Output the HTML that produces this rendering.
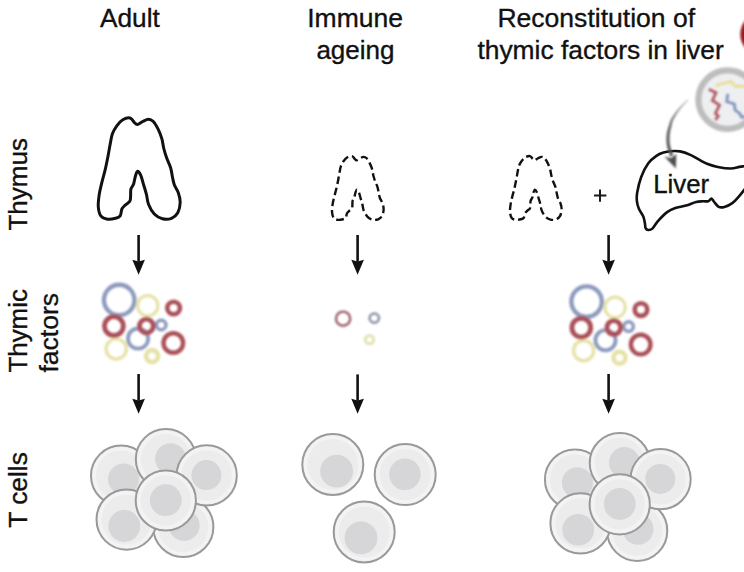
<!DOCTYPE html>
<html><head><meta charset="utf-8"><style>
html,body{margin:0;padding:0;background:#fff;font-family:"Liberation Sans",sans-serif;overflow:hidden;}
svg{display:block;}
</style></head><body>
<svg width="744" height="572" viewBox="0 0 744 572">
<defs>
<filter id="blur" x="-20%" y="-20%" width="140%" height="140%"><feGaussianBlur stdDeviation="0.6"/></filter>
<filter id="qblur" x="-20%" y="-20%" width="140%" height="140%"><feGaussianBlur stdDeviation="0.9"/></filter>
<filter id="sblur" x="-10%" y="-10%" width="120%" height="120%"><feGaussianBlur stdDeviation="0.8"/></filter>
<linearGradient id="ga" gradientUnits="userSpaceOnUse" x1="0" y1="99" x2="0" y2="157"><stop offset="0" stop-color="#b0b0b0"/><stop offset="0.45" stop-color="#6a6a6a"/><stop offset="1" stop-color="#4a4a4a"/></linearGradient>
<path id="thy" d="M130.00,118.00 C131.90,118.42 132.98,121.20 134.20,122.30 C135.42,123.40 135.88,124.73 137.30,124.60 C138.72,124.47 140.83,122.40 142.70,121.50 C144.57,120.60 146.73,119.20 148.50,119.20 C150.27,119.20 151.70,119.83 153.30,121.50 C154.90,123.17 156.67,126.32 158.10,129.20 C159.53,132.08 160.95,135.58 161.90,138.80 C162.85,142.02 163.00,145.28 163.80,148.50 C164.60,151.72 165.57,154.90 166.70,158.10 C167.83,161.30 169.63,164.50 170.60,167.70 C171.57,170.90 171.87,174.42 172.50,177.30 C173.13,180.18 173.43,182.43 174.40,185.00 C175.37,187.57 177.33,189.82 178.30,192.70 C179.27,195.58 180.28,198.95 180.20,202.30 C180.12,205.65 179.25,210.13 177.80,212.80 C176.35,215.47 174.05,217.30 171.50,218.30 C168.95,219.30 165.37,219.52 162.50,218.80 C159.63,218.08 156.63,216.43 154.30,214.00 C151.97,211.57 149.80,207.43 148.50,204.20 C147.20,200.97 147.30,197.80 146.50,194.60 C145.70,191.40 144.65,188.20 143.70,185.00 C142.75,181.80 141.82,177.70 140.80,175.40 C139.78,173.10 138.50,171.07 137.60,171.20 C136.70,171.33 136.07,174.07 135.40,176.20 C134.73,178.33 134.35,181.83 133.60,184.00 C132.85,186.17 131.40,187.15 130.90,189.20 C130.40,191.25 130.78,194.28 130.60,196.30 C130.42,198.32 130.70,199.82 129.80,201.30 C128.90,202.78 126.52,203.92 125.20,205.20 C123.88,206.48 122.73,207.23 121.90,209.00 C121.07,210.77 121.27,214.25 120.20,215.80 C119.13,217.35 117.62,217.73 115.50,218.30 C113.38,218.87 109.92,219.55 107.50,219.20 C105.08,218.85 102.53,218.23 101.00,216.20 C99.47,214.17 98.60,210.60 98.30,207.00 C98.00,203.40 98.63,198.58 99.20,194.60 C99.77,190.62 100.70,187.27 101.70,183.10 C102.70,178.93 104.15,174.08 105.20,169.60 C106.25,165.12 107.17,160.47 108.00,156.20 C108.83,151.93 109.47,147.73 110.20,144.00 C110.93,140.27 111.30,136.83 112.40,133.80 C113.50,130.77 115.07,128.13 116.80,125.80 C118.53,123.47 120.60,121.10 122.80,119.80 C125.00,118.50 128.10,117.58 130.00,118.00 Z"/>
</defs>
<rect width="744" height="572" fill="#fff"/>
<g font-family="Liberation Sans, sans-serif" fill="#111" stroke="#111" stroke-width="0.35"><text x="100.00" y="26.60" font-size="26" textLength="59.76" lengthAdjust="spacingAndGlyphs">Adult</text><text x="307.20" y="26.60" font-size="26" textLength="95.78" lengthAdjust="spacingAndGlyphs">Immune</text><text x="316.40" y="58.50" font-size="26" textLength="78.12" lengthAdjust="spacingAndGlyphs">ageing</text><text x="497.40" y="26.60" font-size="26" textLength="197.73" lengthAdjust="spacingAndGlyphs">Reconstitution of</text><text x="477.40" y="58.80" font-size="26" textLength="246.32" lengthAdjust="spacingAndGlyphs">thymic factors in liver</text><text transform="translate(27.20,230.60) rotate(-90)" font-size="26" textLength="92.69" lengthAdjust="spacingAndGlyphs">Thymus</text><text transform="translate(27.20,372.60) rotate(-90)" font-size="26" textLength="83.49" lengthAdjust="spacingAndGlyphs">Thymic</text><text transform="translate(58.20,372.60) rotate(-90)" font-size="26" textLength="79.74" lengthAdjust="spacingAndGlyphs">factors</text><text transform="translate(27.20,527.80) rotate(-90)" font-size="26" textLength="75.71" lengthAdjust="spacingAndGlyphs">T cells</text><text x="653.20" y="192.80" font-size="25" textLength="55.97" lengthAdjust="spacingAndGlyphs">Liver</text></g>
<!-- thymus -->
<use href="#thy" fill="none" stroke="#111" stroke-width="3"/>
<g transform="translate(330.9,155.2) scale(0.63) translate(-96.5,-116.6)"><use href="#thy" fill="none" stroke="#111" stroke-width="3.8" stroke-dasharray="12 6"/></g>
<g transform="translate(508.9,155.2) scale(0.63) translate(-96.5,-116.6)"><use href="#thy" fill="none" stroke="#111" stroke-width="3.8" stroke-dasharray="12 6" stroke-dashoffset="6"/></g>
<!-- plus -->
<path d="M594,195.6 H606.4 M600,189.4 V201.8" stroke="#1a1a1a" stroke-width="2"/>
<!-- liver -->
<path d="M749.00,165.80 C748.17,165.88 745.62,166.12 744.00,166.30 C742.38,166.48 741.52,166.53 739.30,166.90 C737.08,167.27 734.28,168.50 730.70,168.50 C727.12,168.50 721.75,167.70 717.80,166.90 C713.85,166.10 710.05,164.87 707.00,163.70 C703.95,162.53 702.18,161.33 699.50,159.90 C696.82,158.47 694.13,156.52 690.90,155.10 C687.67,153.68 683.50,152.05 680.10,151.40 C676.70,150.75 673.27,151.00 670.50,151.20 C667.73,151.40 665.78,151.87 663.50,152.60 C661.22,153.33 659.33,153.82 656.80,155.60 C654.27,157.38 650.90,159.73 648.30,163.30 C645.70,166.87 643.05,172.13 641.20,177.00 C639.35,181.87 637.92,188.47 637.20,192.50 C636.48,196.53 636.62,198.48 636.90,201.20 C637.18,203.92 637.83,206.25 638.90,208.80 C639.97,211.35 642.30,214.08 643.30,216.50 C644.30,218.92 644.52,221.37 644.90,223.30 C645.28,225.23 645.05,226.98 645.60,228.10 C646.15,229.22 647.07,229.92 648.20,230.00 C649.33,230.08 650.78,230.07 652.40,228.60 C654.02,227.13 655.50,223.90 657.90,221.20 C660.30,218.50 664.00,214.55 666.80,212.40 C669.60,210.25 671.50,209.43 674.70,208.30 C677.90,207.17 682.43,206.65 686.00,205.60 C689.57,204.55 693.28,202.72 696.10,202.00 C698.92,201.28 700.87,201.43 702.90,201.30 C704.93,201.17 706.88,201.65 708.30,201.20 C709.72,200.75 710.42,198.47 711.40,198.60 C712.38,198.73 712.98,200.63 714.20,202.00 C715.42,203.37 717.00,205.98 718.70,206.80 C720.40,207.62 722.13,207.52 724.40,206.90 C726.67,206.28 729.87,204.87 732.30,203.10 C734.73,201.33 737.05,198.47 739.00,196.30 C740.95,194.13 742.33,192.23 744.00,190.10 C745.67,187.97 748.17,184.60 749.00,183.50" fill="none" stroke="#111" stroke-width="2.6"/>
<!-- circle w squiggles -->
<circle cx="727.6" cy="99.6" r="29.2" fill="#eeeff1" stroke="#bdbdbd" stroke-width="6.3" filter="url(#sblur)"/>
<g filter="url(#qblur)" stroke-linejoin="miter" fill="none" stroke-width="2.8">
<polyline points="715.4,86.2 720,84 724.9,83.2 730.8,81.4 735.6,86.2 740,86 746,86.8" stroke="#e8de98"/>
<polyline points="708.8,89.2 716,92.7 712.4,100.4 719.5,105.2 715.4,113.5 718.3,115.9 715.4,120" stroke="#b25a62"/>
<polyline points="727.8,93.9 726.7,101.6 734.4,104 735,110 739.7,113.5 741.5,117 746,117" stroke="#8094c0"/>
</g>
<!-- red circle -->
<circle cx="762.3" cy="34.2" r="22" fill="#961c22" filter="url(#sblur)"/>
<!-- gray arrow -->
<path d="M687.92,99.32 L687.19,100.01 L686.21,100.93 L685.03,102.02 L683.74,103.24 L682.38,104.55 L681.02,105.89 L679.74,107.23 L678.60,108.51 L677.54,109.79 L676.48,111.14 L675.44,112.53 L674.44,113.93 L673.50,115.30 L672.63,116.61 L671.86,117.84 L671.19,118.96 L670.65,119.96 L670.24,120.85 L669.94,121.66 L669.72,122.40 L669.55,123.09 L669.40,123.74 L669.23,124.41 L669.02,125.15 L668.75,125.97 L668.46,126.85 L668.17,127.76 L667.87,128.70 L667.58,129.67 L667.31,130.66 L667.07,131.66 L666.87,132.66 L666.73,133.68 L666.62,134.72 L666.54,135.76 L666.48,136.80 L666.45,137.83 L666.43,138.83 L666.43,139.81 L666.45,140.75 L666.49,141.65 L666.55,142.54 L666.63,143.40 L666.73,144.23 L666.85,145.04 L666.98,145.83 L667.13,146.59 L667.29,147.35 L667.48,148.11 L667.70,148.84 L667.94,149.53 L668.18,150.19 L668.42,150.81 L668.65,151.40 L668.85,151.95 L669.02,152.47 L669.19,153.01 L669.35,153.58 L669.51,154.16 L669.66,154.71 L669.80,155.23 L669.92,155.70 L670.02,156.09 L670.10,156.40 L673.10,155.60 L673.02,155.30 L672.92,154.91 L672.79,154.44 L672.65,153.91 L672.50,153.34 L672.33,152.74 L672.16,152.14 L671.98,151.53 L671.77,150.92 L671.55,150.30 L671.31,149.70 L671.08,149.10 L670.86,148.49 L670.65,147.89 L670.47,147.28 L670.31,146.65 L670.17,145.98 L670.03,145.28 L669.91,144.56 L669.81,143.82 L669.71,143.06 L669.64,142.28 L669.58,141.48 L669.55,140.65 L669.53,139.78 L669.53,138.86 L669.55,137.91 L669.58,136.94 L669.63,135.97 L669.71,135.00 L669.81,134.05 L669.93,133.14 L670.06,132.24 L670.23,131.32 L670.42,130.40 L670.64,129.47 L670.88,128.55 L671.12,127.63 L671.35,126.74 L671.58,125.85 L671.77,125.02 L671.91,124.27 L672.03,123.61 L672.14,122.99 L672.29,122.38 L672.49,121.72 L672.79,120.95 L673.21,120.04 L673.78,118.95 L674.46,117.72 L675.23,116.39 L676.07,115.00 L676.97,113.58 L677.90,112.16 L678.85,110.79 L679.80,109.49 L680.84,108.19 L682.02,106.81 L683.27,105.41 L684.54,104.04 L685.76,102.75 L686.87,101.60 L687.80,100.62 L688.48,99.88 Z" fill="url(#ga)" filter="url(#sblur)"/>
<path d="M664.4,156.5 L671,158.2 L676.3,154.0 L675.9,168.6 Z" fill="#4d4d4d" filter="url(#sblur)"/>
<!-- arrows -->
<line x1="138.6" y1="235" x2="138.6" y2="261.8" stroke="#111" stroke-width="2.6"/><path d="M132.29999999999998,259.8 L138.6,261.6 L144.9,259.8 L138.6,274.8 Z" fill="#111"/>
<line x1="138.6" y1="374" x2="138.6" y2="400.8" stroke="#111" stroke-width="2.6"/><path d="M132.29999999999998,398.8 L138.6,400.6 L144.9,398.8 L138.6,413.8 Z" fill="#111"/>

<line x1="357.6" y1="235" x2="357.6" y2="261.8" stroke="#111" stroke-width="2.6"/><path d="M351.3,259.8 L357.6,261.6 L363.90000000000003,259.8 L357.6,274.8 Z" fill="#111"/>
<line x1="357.6" y1="374.4" x2="357.6" y2="400.8" stroke="#111" stroke-width="2.6"/><path d="M351.3,398.8 L357.6,400.6 L363.90000000000003,398.8 L357.6,413.8 Z" fill="#111"/>

<line x1="608.6" y1="235" x2="608.6" y2="261.8" stroke="#111" stroke-width="2.6"/><path d="M602.3000000000001,259.8 L608.6,261.6 L614.9,259.8 L608.6,274.8 Z" fill="#111"/>
<line x1="608.6" y1="374" x2="608.6" y2="400.8" stroke="#111" stroke-width="2.6"/><path d="M602.3000000000001,398.8 L608.6,400.6 L614.9,398.8 L608.6,413.8 Z" fill="#111"/>

<!-- factors -->
<g filter="url(#sblur)">
<circle cx="119.20" cy="300.00" r="15.25" fill="none" stroke="#8c9abd" stroke-width="4.30"/>
<circle cx="147.70" cy="305.70" r="10.20" fill="none" stroke="#e6e2a8" stroke-width="3.20"/>
<circle cx="173.60" cy="308.00" r="6.30" fill="none" stroke="#aa5059" stroke-width="4.60"/>
<circle cx="116.20" cy="349.00" r="10.10" fill="none" stroke="#e6e2a8" stroke-width="3.40"/>
<circle cx="152.10" cy="356.10" r="6.00" fill="none" stroke="#e6e2a8" stroke-width="4.60"/>
<circle cx="113.90" cy="326.10" r="9.40" fill="none" stroke="#aa5059" stroke-width="4.80"/>
<circle cx="138.10" cy="338.60" r="10.10" fill="none" stroke="#8c9abd" stroke-width="3.80"/>
<circle cx="161.20" cy="325.00" r="4.80" fill="none" stroke="#8c9abd" stroke-width="3.40"/>
<circle cx="146.40" cy="326.00" r="6.90" fill="none" stroke="#aa5059" stroke-width="4.80"/>
<circle cx="173.30" cy="343.00" r="9.80" fill="none" stroke="#aa5059" stroke-width="4.40"/>

<circle cx="343.1" cy="318.7" r="7.1" fill="none" stroke="#9c5c64" stroke-width="2.4"/>
<circle cx="374.3" cy="318.1" r="4.7" fill="none" stroke="#8990a4" stroke-width="2.5"/>
<circle cx="369.5" cy="339.6" r="4.2" fill="none" stroke="#e2e2b6" stroke-width="3"/>
<circle cx="586.60" cy="301.60" r="15.25" fill="none" stroke="#8c9abd" stroke-width="4.30"/>
<circle cx="615.10" cy="307.30" r="10.20" fill="none" stroke="#e6e2a8" stroke-width="3.20"/>
<circle cx="641.00" cy="309.60" r="6.30" fill="none" stroke="#aa5059" stroke-width="4.60"/>
<circle cx="583.60" cy="350.60" r="10.10" fill="none" stroke="#e6e2a8" stroke-width="3.40"/>
<circle cx="619.50" cy="357.70" r="6.00" fill="none" stroke="#e6e2a8" stroke-width="4.60"/>
<circle cx="581.30" cy="327.70" r="9.40" fill="none" stroke="#aa5059" stroke-width="4.80"/>
<circle cx="605.50" cy="340.20" r="10.10" fill="none" stroke="#8c9abd" stroke-width="3.80"/>
<circle cx="628.60" cy="326.60" r="4.80" fill="none" stroke="#8c9abd" stroke-width="3.40"/>
<circle cx="613.80" cy="327.60" r="6.90" fill="none" stroke="#aa5059" stroke-width="4.80"/>
<circle cx="640.70" cy="344.60" r="9.80" fill="none" stroke="#aa5059" stroke-width="4.40"/>

</g>
<!-- cells -->
<g><circle cx="121.10" cy="475.70" r="30.10" fill="#ececec" stroke="#999999" stroke-width="2.0"/><circle cx="121.10" cy="475.70" r="26.90" fill="none" stroke="#f3f3f3" stroke-width="3.5" filter="url(#blur)"/><circle cx="123.50" cy="479.00" r="15.5" fill="#d6d6d8" filter="url(#blur)"/></g>
<g><circle cx="165.90" cy="459.20" r="30.10" fill="#ececec" stroke="#999999" stroke-width="2.0"/><circle cx="165.90" cy="459.20" r="26.90" fill="none" stroke="#f3f3f3" stroke-width="3.5" filter="url(#blur)"/><circle cx="170.60" cy="458.80" r="15.5" fill="#d6d6d8" filter="url(#blur)"/></g>
<g><circle cx="183.30" cy="527.00" r="30.10" fill="#ececec" stroke="#999999" stroke-width="2.0"/><circle cx="183.30" cy="527.00" r="26.90" fill="none" stroke="#f3f3f3" stroke-width="3.5" filter="url(#blur)"/><circle cx="184.10" cy="525.40" r="15.5" fill="#d6d6d8" filter="url(#blur)"/></g>
<g><circle cx="206.70" cy="475.40" r="30.10" fill="#ececec" stroke="#999999" stroke-width="2.0"/><circle cx="206.70" cy="475.40" r="26.90" fill="none" stroke="#f3f3f3" stroke-width="3.5" filter="url(#blur)"/><circle cx="206.40" cy="475.10" r="15.0" fill="#d6d6d8" filter="url(#blur)"/></g>
<g><circle cx="126.60" cy="519.60" r="30.10" fill="#ececec" stroke="#999999" stroke-width="2.0"/><circle cx="126.60" cy="519.60" r="26.90" fill="none" stroke="#f3f3f3" stroke-width="3.5" filter="url(#blur)"/><circle cx="124.30" cy="526.00" r="15.9" fill="#d6d6d8" filter="url(#blur)"/></g>
<g><circle cx="165.80" cy="500.50" r="30.10" fill="#ececec" stroke="#999999" stroke-width="2.0"/><circle cx="165.80" cy="500.50" r="26.90" fill="none" stroke="#f3f3f3" stroke-width="3.5" filter="url(#blur)"/><circle cx="165.80" cy="500.20" r="15.9" fill="#d6d6d8" filter="url(#blur)"/></g>

<g><circle cx="332.80" cy="464.50" r="30.50" fill="#ececec" stroke="#999999" stroke-width="2.0"/><circle cx="332.80" cy="464.50" r="27.30" fill="none" stroke="#f3f3f3" stroke-width="3.5" filter="url(#blur)"/><circle cx="336.60" cy="471.20" r="16.4" fill="#d6d6d8" filter="url(#blur)"/></g>
<g><circle cx="405.20" cy="474.60" r="30.50" fill="#ececec" stroke="#999999" stroke-width="2.0"/><circle cx="405.20" cy="474.60" r="27.30" fill="none" stroke="#f3f3f3" stroke-width="3.5" filter="url(#blur)"/><circle cx="404.90" cy="474.30" r="15.8" fill="#d6d6d8" filter="url(#blur)"/></g>
<g><circle cx="364.20" cy="532.00" r="30.50" fill="#ececec" stroke="#999999" stroke-width="2.0"/><circle cx="364.20" cy="532.00" r="27.30" fill="none" stroke="#f3f3f3" stroke-width="3.5" filter="url(#blur)"/><circle cx="361.00" cy="537.90" r="16.4" fill="#d6d6d8" filter="url(#blur)"/></g>

<g><circle cx="575.00" cy="479.50" r="30.10" fill="#ececec" stroke="#999999" stroke-width="2.0"/><circle cx="575.00" cy="479.50" r="26.90" fill="none" stroke="#f3f3f3" stroke-width="3.5" filter="url(#blur)"/><circle cx="577.40" cy="482.80" r="15.5" fill="#d6d6d8" filter="url(#blur)"/></g>
<g><circle cx="619.80" cy="463.00" r="30.10" fill="#ececec" stroke="#999999" stroke-width="2.0"/><circle cx="619.80" cy="463.00" r="26.90" fill="none" stroke="#f3f3f3" stroke-width="3.5" filter="url(#blur)"/><circle cx="624.50" cy="462.60" r="15.5" fill="#d6d6d8" filter="url(#blur)"/></g>
<g><circle cx="637.20" cy="530.80" r="30.10" fill="#ececec" stroke="#999999" stroke-width="2.0"/><circle cx="637.20" cy="530.80" r="26.90" fill="none" stroke="#f3f3f3" stroke-width="3.5" filter="url(#blur)"/><circle cx="638.00" cy="529.20" r="15.5" fill="#d6d6d8" filter="url(#blur)"/></g>
<g><circle cx="660.60" cy="479.20" r="30.10" fill="#ececec" stroke="#999999" stroke-width="2.0"/><circle cx="660.60" cy="479.20" r="26.90" fill="none" stroke="#f3f3f3" stroke-width="3.5" filter="url(#blur)"/><circle cx="660.30" cy="478.90" r="15.0" fill="#d6d6d8" filter="url(#blur)"/></g>
<g><circle cx="580.50" cy="523.40" r="30.10" fill="#ececec" stroke="#999999" stroke-width="2.0"/><circle cx="580.50" cy="523.40" r="26.90" fill="none" stroke="#f3f3f3" stroke-width="3.5" filter="url(#blur)"/><circle cx="578.20" cy="529.80" r="15.9" fill="#d6d6d8" filter="url(#blur)"/></g>
<g><circle cx="619.70" cy="504.30" r="30.10" fill="#ececec" stroke="#999999" stroke-width="2.0"/><circle cx="619.70" cy="504.30" r="26.90" fill="none" stroke="#f3f3f3" stroke-width="3.5" filter="url(#blur)"/><circle cx="619.70" cy="504.00" r="15.9" fill="#d6d6d8" filter="url(#blur)"/></g>

</svg>
</body></html>
